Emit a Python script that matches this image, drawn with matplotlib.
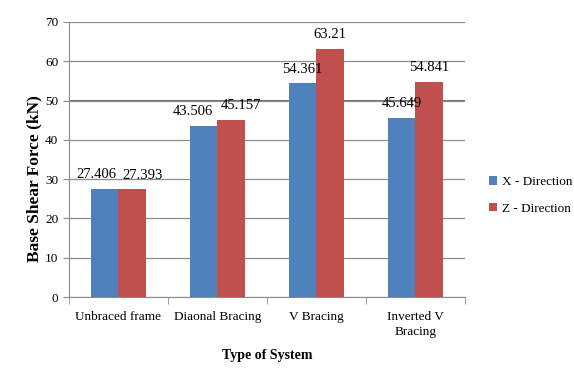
import matplotlib.pyplot as plt
import numpy as np

systems = ['Unbraced frame', 'Diaonal Bracing', 'V Bracing', 'Inverted V\nBracing']
x_dir = [27.406, 43.506, 54.361, 45.649]
z_dir = [27.393, 45.157, 63.21, 54.841]
series = ['X - Direction', 'Z - Direction']

plt.rcParams['font.family'] = ['Liberation Serif', 'DejaVu Serif']

fig = plt.figure(figsize=(5.74, 3.76), dpi=100)
ax = fig.add_axes([0.120, 0.210, 0.690, 0.7315])

pos = np.arange(len(systems))
w = 0.28
b1 = ax.bar(pos - w / 2, x_dir, w, color='#4F81BD', label=series[0], zorder=3)
b2 = ax.bar(pos + w / 2, z_dir, w, color='#C0504D', label=series[1], zorder=3)

# nudge the crowded labels apart on the first two groups
shift_x = [-0.08, -0.11, 0, 0]
shift_z = [0.10, 0.10, 0, 0]
for bars, vals, sh in ((b1, x_dir, shift_x), (b2, z_dir, shift_z)):
    for r, v, d in zip(bars, vals, sh):
        ax.text(r.get_x() + r.get_width() / 2 + d, v + 2.0, f'{v:g}',
                ha='center', va='bottom', fontsize=10.5, zorder=4)

ax.set_xlim(-0.5, len(systems) - 0.5)
ax.set_ylim(0, 70)
ax.set_yticks(range(0, 71, 10))
ax.yaxis.grid(True, color='#8c8c8c', linewidth=0.9, zorder=0)
ax.axhline(50, color='#555555', linewidth=1.2, zorder=1)

ax.set_xticks(pos)
ax.set_xticklabels(systems, fontsize=9.5, linespacing=1.3)
ax.tick_params(axis='x', length=0, pad=10)
ax.set_xticks(np.arange(-0.5, len(systems), 1), minor=True)
ax.tick_params(axis='x', which='minor', length=5, color='#8c8c8c')
ax.tick_params(axis='y', length=4, color='#8c8c8c', labelsize=9.5)

for s in ('top', 'right'):
    ax.spines[s].set_visible(False)
for s in ('left', 'bottom'):
    ax.spines[s].set_color('#8c8c8c')

ax.set_ylabel('Base Shear Force (kN)', fontsize=12.5, fontweight='bold')
ax.yaxis.set_label_coords(-0.066, 0.43)
ax.set_xlabel('Type of System', fontsize=10, fontweight='bold', labelpad=8)

ax.legend(loc='center left', bbox_to_anchor=(1.03, 0.37), frameon=False,
          fontsize=9.5, handlelength=0.6, handleheight=0.6, handletextpad=0.4,
          labelspacing=1.1)

fig.savefig('out.png', dpi=100)
